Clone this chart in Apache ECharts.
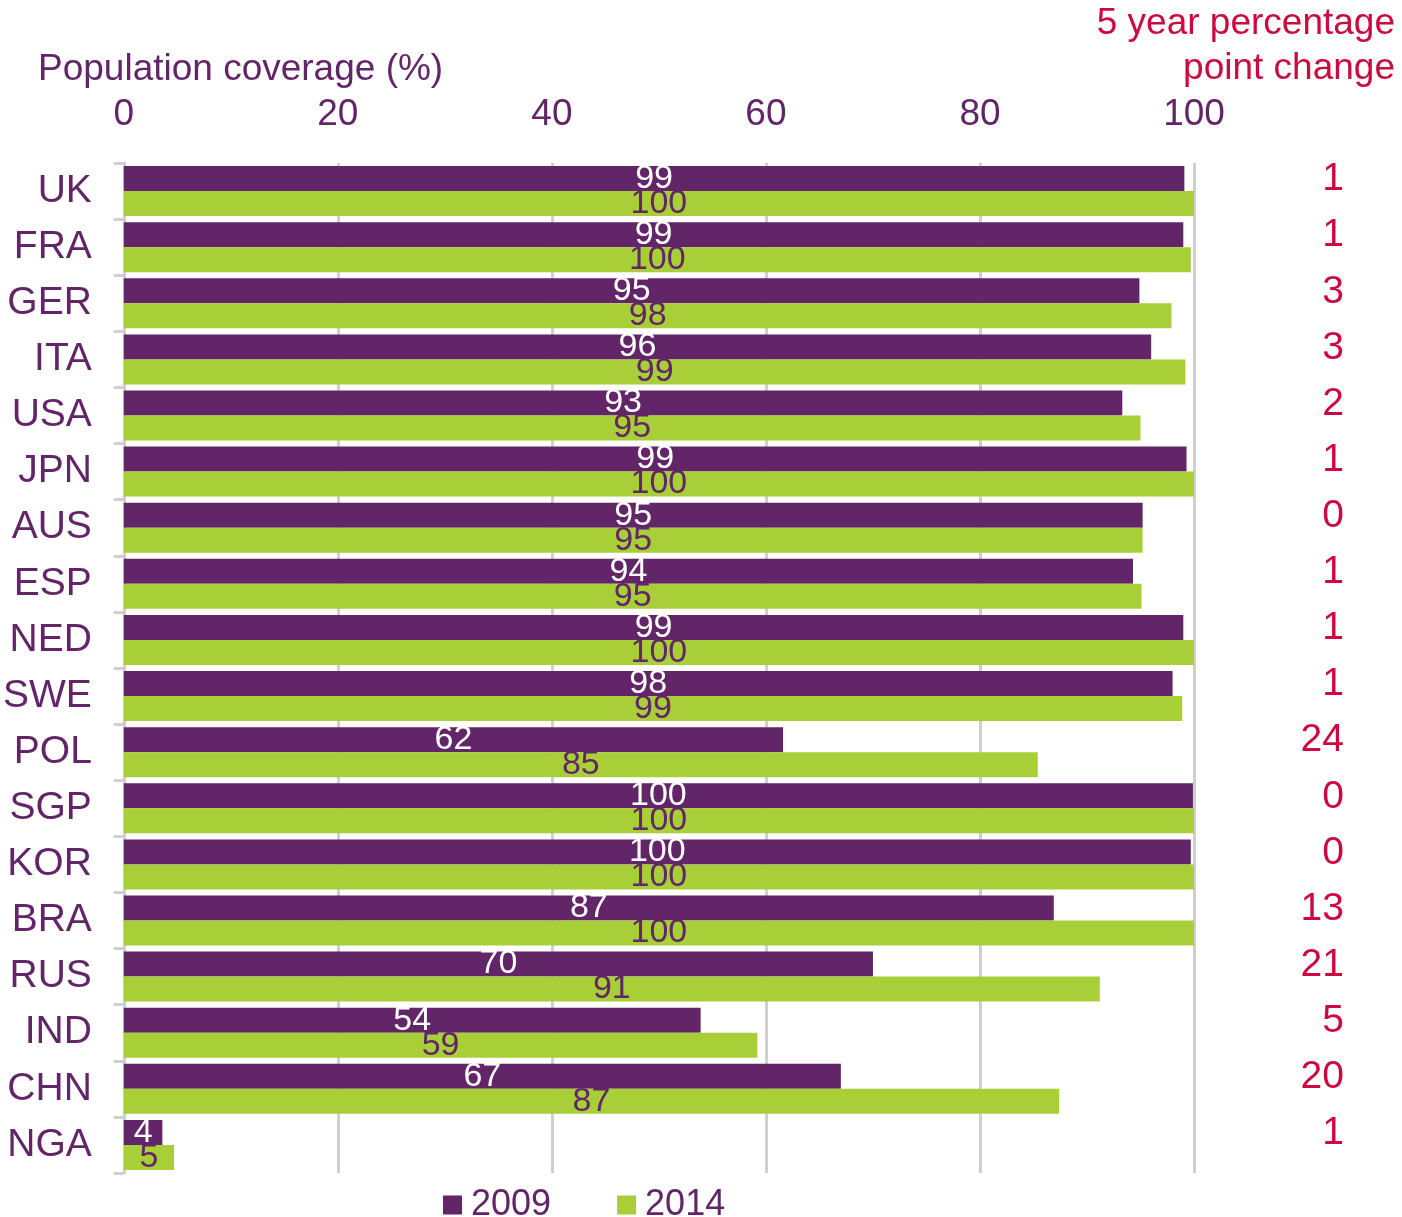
<!DOCTYPE html>
<html>
<head>
<meta charset="utf-8">
<script src="https://cdn.jsdelivr.net/npm/echarts@6/dist/echarts.min.js"></script>
<style>
  html, body { margin: 0; padding: 0; background: #fff; }
  #chart { width: 1402px; height: 1217px; }
</style>
</head>
<body>
<div id="chart"></div>
<script>
  const countries = ['UK', 'FRA', 'GER', 'ITA', 'USA', 'JPN', 'AUS', 'ESP', 'NED', 'SWE',
    'POL', 'SGP', 'KOR', 'BRA', 'RUS', 'IND', 'CHN', 'NGA'];
  const cov2009 = [99.1, 99.0, 94.9, 96.0, 93.3, 99.3, 95.2, 94.3, 99.0, 98.0,
    61.6, 99.9, 99.7, 86.9, 70.0, 53.9, 67.0, 3.6];
  const cov2014 = [100, 99.7, 97.9, 99.2, 95.0, 100, 95.2, 95.1, 100, 98.9,
    85.4, 100, 100, 100, 91.2, 59.2, 87.4, 4.7];
  const pointChange = ['1', '1', '3', '3', '2', '1', '0', '1', '1', '1',
    '24', '0', '0', '13', '21', '5', '20', '1'];
  const xTicks = [0, 20, 40, 60, 80, 100];

  const purple = '#622567';
  const green = '#a8cf38';
  const red = '#cc0a3f';
  const grey = '#cfcfcf';
  const font = '"Liberation Sans", Arial, sans-serif';

  const chart = echarts.init(document.getElementById('chart'));
  const option = {
    animation: false,
    textStyle: { fontFamily: font },
    title: [
      {
        text: 'Population coverage (%)',
        left: 33,
        top: 46,
        textStyle: { color: purple, fontSize: 37, fontWeight: 'normal', fontFamily: font }
      },
      {
        text: '5 year percentage',
        right: 2,
        top: 0,
        textStyle: { color: red, fontSize: 37, fontWeight: 'normal', fontFamily: font }
      },
      {
        text: 'point change',
        right: 2,
        top: 45,
        textStyle: { color: red, fontSize: 37, fontWeight: 'normal', fontFamily: font }
      }
    ],
    legend: {
      data: ['2009', '2014'],
      left: 438,
      top: 1182,
      itemWidth: 19,
      itemHeight: 19,
      itemGap: 66,
      icon: 'rect',
      textStyle: { color: purple, fontSize: 36, fontFamily: font, padding: [0, 0, 0, 4] }
    },
    grid: {
      left: 122,
      right: 208,
      top: 163,
      height: 1010,
      containLabel: false
    },
    xAxis: {
      type: 'value',
      position: 'top',
      min: 0,
      max: 100,
      interval: 20,
      axisLine: { show: false },
      axisTick: { show: false },
      axisLabel: {
        color: purple,
        fontSize: 37,
        margin: 30,
        fontFamily: font,
        formatter: function (v) { return xTicks.indexOf(v) >= 0 ? String(v) : ''; }
      },
      splitLine: { show: true, lineStyle: { color: grey, width: 3 } }
    },
    yAxis: [
      {
        type: 'category',
        data: countries,
        inverse: true,
        axisLine: { show: true, lineStyle: { color: grey, width: 3 } },
        axisTick: { show: true, length: 10, lineStyle: { color: grey, width: 3 } },
        axisLabel: { color: purple, fontSize: 39, margin: 32, fontFamily: font }
      },
      {
        type: 'category',
        data: pointChange,
        inverse: true,
        position: 'right',
        axisLine: { show: false },
        axisTick: { show: false },
        splitLine: { show: false },
        axisLabel: {
          color: red,
          fontSize: 39,
          fontFamily: font,
          align: 'right',
          verticalAlign: 'bottom',
          lineHeight: 23,
          margin: 150
        }
      }
    ],
    series: [
      {
        name: '2009',
        type: 'bar',
        data: cov2009,
        barWidth: 25,
        barGap: '0%',
        itemStyle: { color: purple },
        label: {
          show: true,
          position: 'inside',
          color: '#fff',
          fontSize: 34,
          fontFamily: font,
          formatter: function (p) { return Math.round(p.value); }
        }
      },
      {
        name: '2014',
        type: 'bar',
        data: cov2014,
        barWidth: 25,
        barGap: '0%',
        itemStyle: { color: green },
        label: {
          show: true,
          position: 'inside',
          color: purple,
          fontSize: 34,
          fontFamily: font,
          formatter: function (p) { return Math.round(p.value); }
        }
      }
    ]
  };
  chart.setOption(option);
  window.addEventListener('resize', function () {
    chart.resize();
  });
</script>
</body>
</html>
